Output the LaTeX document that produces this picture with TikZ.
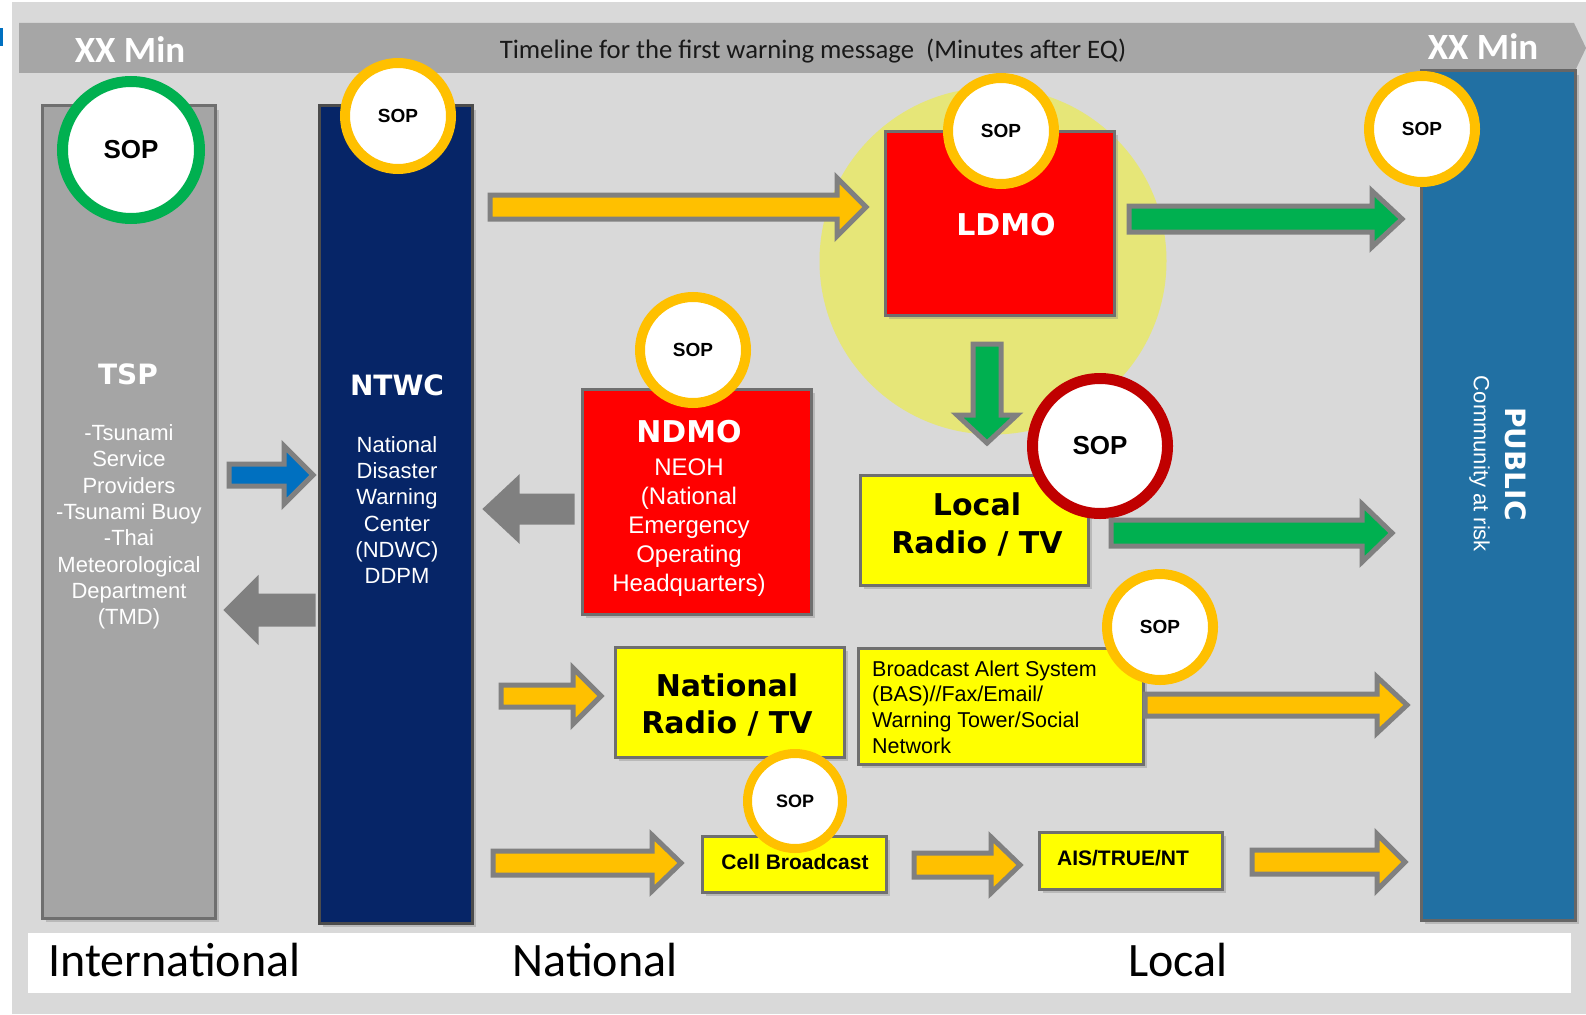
\documentclass[tikz,border=0pt]{standalone}
\usepackage{fontspec}
\setmainfont{Liberation Sans}
\newfontfamily\calib{Carlito}
\newfontfamily\heavy{DejaVu Sans}
\usetikzlibrary{shadows}
\definecolor{bgc}{HTML}{D9D9D9}
\definecolor{bannerc}{HTML}{A6A6A6}
\definecolor{tspc}{HTML}{A5A5A5}
\definecolor{navyc}{HTML}{062567}
\definecolor{pubc}{HTML}{2170A3}
\definecolor{redc}{HTML}{FF0000}
\definecolor{yelc}{HTML}{FFFF00}
\definecolor{orc}{HTML}{FFC000}
\definecolor{grc}{HTML}{00B050}
\definecolor{drc}{HTML}{C00000}
\definecolor{bluc}{HTML}{0070C0}
\definecolor{greyc}{HTML}{808080}
\definecolor{paley}{HTML}{E6E678}
\definecolor{edgec}{HTML}{6F6F6F}
\newcommand{\fs}[2]{\fontsize{#1}{#2}\selectfont}
\newcommand{\harrow}[7]{\draw[blockarrow,fill=#1] (#2,#4-#5) -- (#7,#4-#5) -- (#7,#4-#6) -- (#3,#4) -- (#7,#4+#6) -- (#7,#4+#5) -- (#2,#4+#5) -- cycle;}
\newcommand{\varrow}[7]{\draw[blockarrow,fill=#1] (#4-#5,#2) -- (#4-#5,#7) -- (#4-#6,#7) -- (#4,#3) -- (#4+#6,#7) -- (#4+#5,#7) -- (#4+#5,#2) -- cycle;}
\tikzset{
  blockarrow/.style={draw=greyc, line width=5pt, line join=miter},
  abox/.style={draw=edgec, line width=3pt, inner sep=0pt,
     drop shadow={shadow xshift=4pt, shadow yshift=-4pt, opacity=0.35}},
  sop/.style={circle, fill=white, draw=orc, line width=10pt, minimum size=96pt, inner sep=0pt,
     font=\bfseries\fs{19}{22}},
  wtext/.style={text=white, align=center, inner sep=0pt},
  btext/.style={text=black, align=center, inner sep=0pt},
}
\begin{document}
\begin{tikzpicture}[x=1pt,y=-1pt]
\useasboundingbox (0,0) rectangle (1586,1014);
\fill[white] (0,0) rectangle (1586,1014);
\fill[bgc] (12,2) rectangle (1586,1014);
\fill[bluc] (0,28) rectangle (3,46);
% timeline banner
\fill[bannerc] (19,23) -- (1574,23) -- (1586,48) -- (1574,73) -- (19,73) -- cycle;
\node[text=white, font=\calib\bfseries\fs{37}{40}, inner sep=0pt] (xxl) at (130,50) {XX Min};
\node[text=white, font=\calib\bfseries\fs{37}{40}, inner sep=0pt] (xxr) at (1483,47) {XX Min};
\node[text=black!90, font=\calib\fs{26.7}{30}, inner sep=0pt] (tl) at (813,51) {Timeline for the first warning message\ \ (Minutes after EQ)};
% bottom band
\fill[white] (28,933) rectangle (1571,993);
\node[font=\calib\fs{48}{52}, anchor=west, inner sep=0pt] (intl) at (48,960) {International};
\node[font=\calib\fs{48}{52}, inner sep=0pt] (natl) at (595,960) {National};
\node[font=\calib\fs{48}{52}, inner sep=0pt] (locl) at (1178,960) {Local};
% columns
\node[abox, fill=tspc, draw=edgec, minimum width=173pt, minimum height=812pt] (tsp) at (128.5,512) {};
\node[abox, fill=navyc, draw=black!70, minimum width=153pt, minimum height=817pt] (ntwc) at (395.5,514.5) {};
\node[abox, fill=pubc, draw=black!60, minimum width=154pt, minimum height=849pt] (pub) at (1498,495.5) {};
% pale circle behind LDMO
\node[circle, fill=paley, minimum size=347pt, inner sep=0pt] (halo) at (993,261) {};
% boxes
\node[abox, fill=redc, minimum width=229pt, minimum height=184pt] (ldmo) at (999.5,223) {};
\node[abox, fill=redc, minimum width=229pt, minimum height=225pt] (ndmo) at (696.5,501.5) {};
\node[abox, fill=yelc, minimum width=228pt, minimum height=110pt] (lrtv) at (974,530) {};
\node[abox, fill=yelc, minimum width=229pt, minimum height=110pt] (nrtv) at (729.5,702) {};
\node[abox, fill=yelc, minimum width=285pt, minimum height=116pt] (bas) at (1000.5,706) {};
\node[abox, fill=yelc, minimum width=184pt, minimum height=56pt] (cell) at (794,864) {};
\node[abox, fill=yelc, minimum width=183pt, minimum height=57pt] (ais) at (1130.5,860.5) {};
% column texts
\node[wtext, font=\heavy\bfseries\fs{28}{32}] (tspt) at (128,374) {TSP};
\node[wtext, font=\fs{22}{26.3}] (tspb) at (129,527) {-Tsunami\\Service\\Providers\\-Tsunami Buoy\\-Thai\\Meteorological\\Department\\(TMD)};
\node[wtext, font=\heavy\bfseries\fs{28}{32}] (ntwct) at (397,385) {NTWC};
\node[wtext, font=\fs{22}{26.3}] (ntwcb) at (397,510) {National\\Disaster\\Warning\\Center\\(NDWC)\\DDPM};
\node[wtext, rotate=-90, font=\fs{22}{32}] (pubt) at (1498,464) {{\heavy\bfseries\fs{28}{32}PUBLIC}\\Community at risk};
% box texts
\node[wtext, font=\heavy\bfseries\fs{30}{34}] (ldmot) at (1006,225) {LDMO};
\node[wtext, font=\heavy\bfseries\fs{30}{34}] (ndmot) at (689,432) {NDMO};
\node[wtext, font=\fs{24}{29}] (ndmob) at (689,528) {NEOH\\(National\\Emergency\\Operating\\Headquarters)};
\node[btext, font=\heavy\bfseries\fs{30}{38}] (lrtvt) at (977,524) {Local\\Radio / TV};
\node[btext, font=\heavy\bfseries\fs{30}{37}] (nrtvt) at (727,704.5) {National\\Radio / TV};
\node[btext, align=left, anchor=west, font=\fs{21.5}{25.7}] (bast) at (872,707) {Broadcast Alert System\\(BAS)//Fax/Email/\\Warning Tower/Social\\Network};
\node[btext, font=\bfseries\fs{21}{24}] (cellt) at (795,862) {Cell Broadcast};
\node[btext, font=\bfseries\fs{21}{24}] (aist) at (1123,858) {AIS/TRUE/NT};
% SOP circles
\node[sop, draw=grc, line width=11pt, minimum size=137pt, font=\bfseries\fs{26}{30}] (sop1) at (131,150) {SOP};
\node[sop, minimum size=106pt] (sop2) at (398,116) {SOP};
\node[sop, minimum size=106pt] (sop3) at (1001,131) {SOP};
\node[sop, minimum size=106pt] (sop4) at (1422,129) {SOP};
\node[sop, minimum size=106pt] (sop5) at (693,350) {SOP};
\node[sop, draw=drc, line width=11pt, minimum size=135pt, font=\bfseries\fs{26}{30}] (sop6) at (1100,446) {SOP};
\node[sop, minimum size=106pt] (sop7) at (1160,627) {SOP};
\node[sop, minimum size=95pt, line width=9pt, font=\bfseries\fs{18}{21}] (sop8) at (795,801) {SOP};
% block arrows
\harrow{orc}{490}{866}{207}{12}{29}{837}
\harrow{grc}{1129}{1402}{219}{13}{28}{1372}
\varrow{grc}{344}{443}{987}{14}{30}{415}
\harrow{grc}{1111}{1392}{533}{13}{29}{1362}
\harrow{bluc}{229}{313}{475}{11}{29}{284}
\harrow{greyc}{313}{227}{610}{14}{29}{256}
\harrow{greyc}{572}{486}{509}{13}{29}{517}
\harrow{orc}{501}{601}{696}{11}{28}{573}
\harrow{orc}{1145}{1407}{705}{11}{28}{1377}
\harrow{orc}{493}{681}{863}{12}{28}{652}
\harrow{orc}{914}{1020}{865}{12}{28}{991}
\harrow{orc}{1252}{1405}{862}{12}{28}{1377}
\end{tikzpicture}
\end{document}
